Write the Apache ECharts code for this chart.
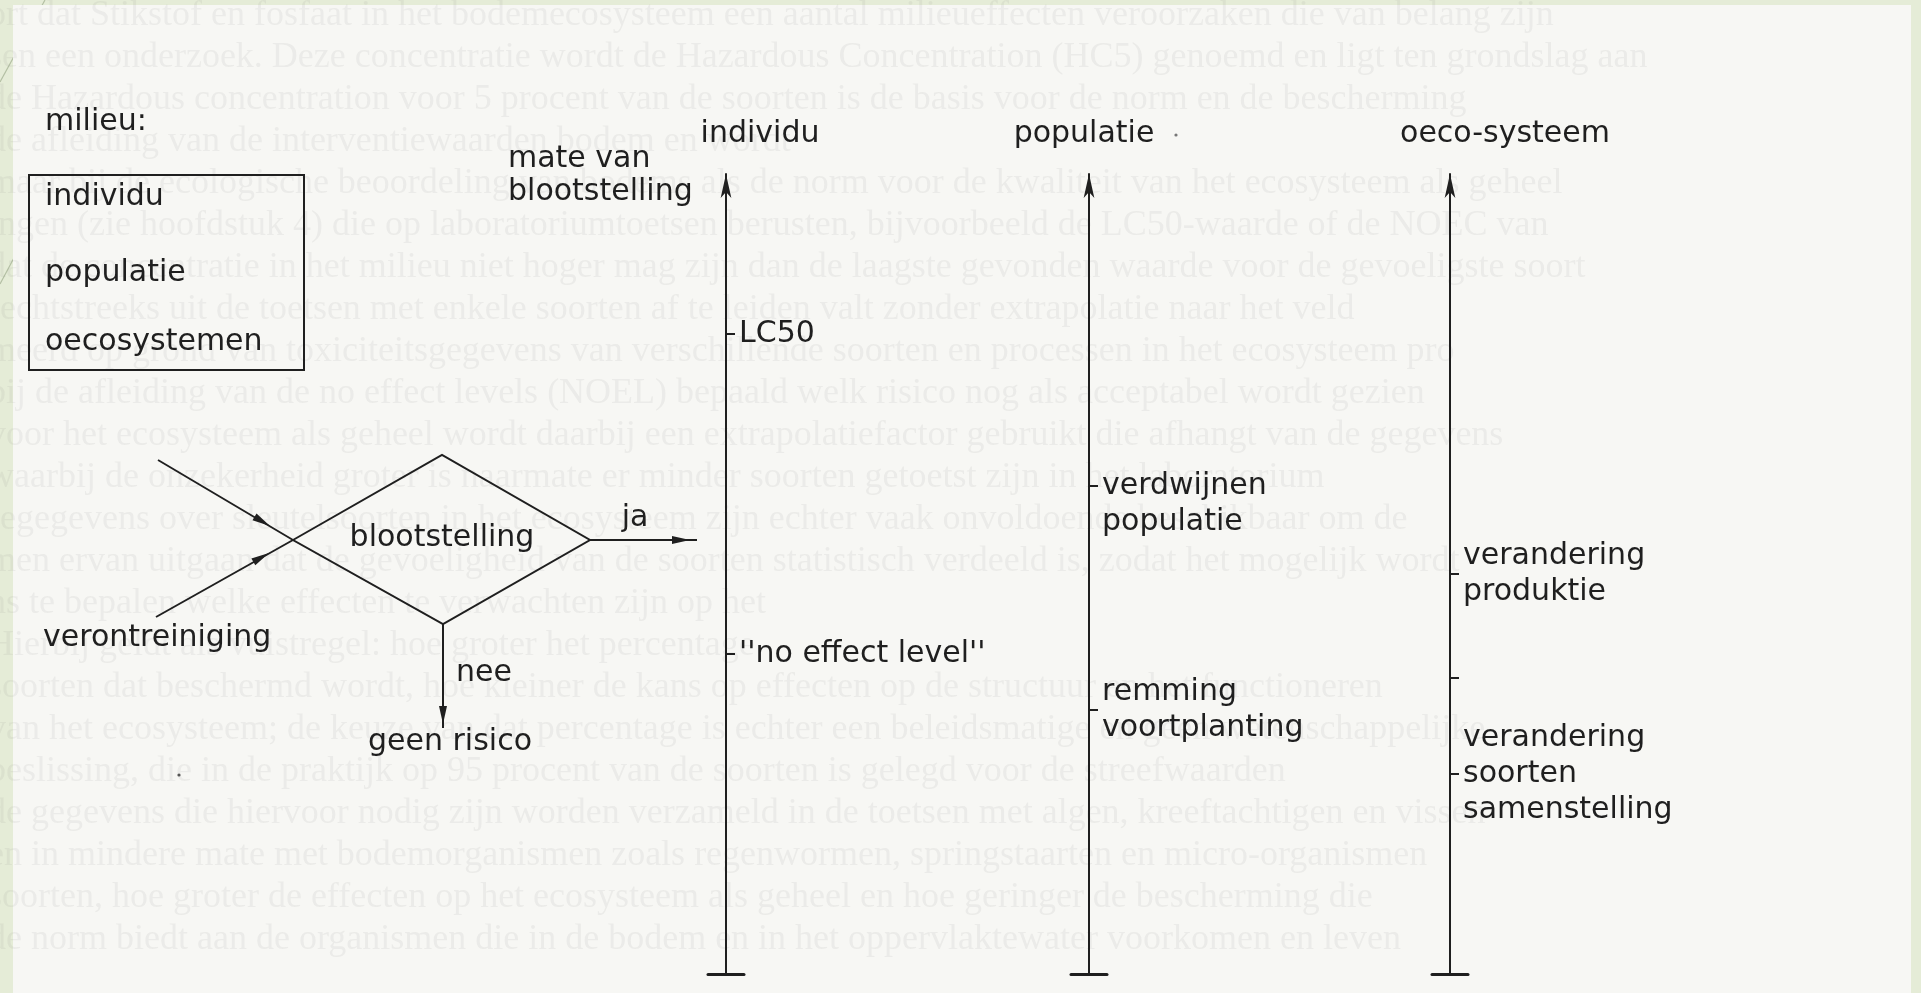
<!DOCTYPE html>
<html lang="nl">
<head>
<meta charset="UTF-8">
<title>milieu: individu, populatie, oeco-systeem</title>
<style>
  html, body { margin: 0; padding: 0; background: #e5ecd7; }
  #chart { width: 1921px; height: 993px; }
</style>
<script src="https://cdn.jsdelivr.net/npm/echarts@6/dist/echarts.min.js"></script>
</head>
<body>
<div id="chart"></div>
<script>
// kolommen en de effecten langs de as "mate van blootstelling" (schaal 0-100)
var columns = ['individu', 'populatie', 'oeco-systeem'];
var individuEffects = ['LC50', "''no effect level''"];
var individuLevels = [80, 40];
var populatieEffects = ['verdwijnen\npopulatie', 'remming\nvoortplanting'];
var populatieLevels = [61, 33];
var oecoEffects = ['verandering\nproduktie', '', 'verandering\nsoorten\nsamenstelling'];
var oecoLevels = [50, 37, 25];
var milieuItems = ['individu', 'populatie', 'oecosystemen'];

// doorschijnende tekst van de achterkant van de pagina
var ghostLines = [
    'ort dat Stikstof en fosfaat in het bodemecosysteem een aantal milieueffecten veroorzaken die van belang zijn',
    'sen een onderzoek. Deze concentratie wordt de Hazardous Concentration (HC5) genoemd en ligt ten grondslag aan',
    'de Hazardous concentration voor 5 procent van de soorten is de basis voor de norm en de bescherming',
    'de afleiding van de interventiewaarden bodem en wordt',
    'maar bij de ecologische beoordeling van bodems als de norm voor de kwaliteit van het ecosysteem als geheel',
    'ingen (zie hoofdstuk 4) die op laboratoriumtoetsen berusten, bijvoorbeeld de LC50-waarde of de NOEC van',
    'dat de concentratie in het milieu niet hoger mag zijn dan de laagste gevonden waarde voor de gevoeligste soort',
    'rechtstreeks uit de toetsen met enkele soorten af te leiden valt zonder extrapolatie naar het veld',
    'meerd op grond van toxiciteitsgegevens van verschillende soorten en processen in het ecosysteem pro',
    'bij de afleiding van de no effect levels (NOEL) bepaald welk risico nog als acceptabel wordt gezien',
    'voor het ecosysteem als geheel wordt daarbij een extrapolatiefactor gebruikt die afhangt van de gegevens',
    'waarbij de onzekerheid groter is naarmate er minder soorten getoetst zijn in het laboratorium',
    'regegevens over sleutelsoorten in het ecosysteem zijn echter vaak onvoldoende beschikbaar om de',
    'men ervan uitgaan dat de gevoeligheid van de soorten statistisch verdeeld is, zodat het mogelijk wordt',
    'ns te bepalen welke effecten te verwachten zijn op het',
    'Hierbij geldt als vuistregel: hoe groter het percentage',
    'soorten dat beschermd wordt, hoe kleiner de kans op effecten op de structuur en het functioneren',
    'van het ecosysteem; de keuze van dat percentage is echter een beleidsmatige en geen wetenschappelijke',
    'beslissing, die in de praktijk op 95 procent van de soorten is gelegd voor de streefwaarden',
    'de gegevens die hiervoor nodig zijn worden verzameld in de toetsen met algen, kreeftachtigen en vissen',
    'en in mindere mate met bodemorganismen zoals regenwormen, springstaarten en micro-organismen',
    'soorten, hoe groter de effecten op het ecosysteem als geheel en hoe geringer de bescherming die',
    'de norm biedt aan de organismen die in de bodem en in het oppervlaktewater voorkomen en leven'
];

var FONT = '"DejaVu Sans", "Liberation Sans", sans-serif';
var INK = '#1f1f1f';
var myChart = echarts.init(document.getElementById('chart'));

var effects = [individuEffects, populatieEffects, oecoEffects];
var levels = [individuLevels, populatieLevels, oecoLevels];
var axisX = [726, 1089, 1450];      // midden van elke as
var nameShift = [34, -5, 55];        // kopje t.o.v. de as
var labelLead = [[0, 0], [1, 0], [0, 0, 0]];  // lege regels boven een label, zodat het streepje bij de juiste regel staat

var grids = [], xAxes = [], yAxes = [];
columns.forEach(function (col, i) {
    grids.push({left: axisX[i] - 18, width: 36, top: 174, height: 800});
    // korte horizontale lijn onderaan (de "T")
    xAxes.push({
        gridIndex: i, type: 'value', min: -1, max: 1,
        axisLine: {lineStyle: {color: INK, width: 3}},
        axisTick: {show: false}, axisLabel: {show: false}, splitLine: {show: false}
    });
    yAxes.push({
        gridIndex: i, type: 'value', min: 0, max: 100, position: 'right',
        name: col, nameLocation: 'end', nameGap: 25,
        nameTextStyle: {
            fontFamily: FONT, fontSize: 30, color: INK,
            padding: nameShift[i] >= 0 ? [0, 0, 0, 2 * nameShift[i]] : [0, -2 * nameShift[i], 0, 0]
        },
        axisLine: {onZero: true, symbol: ['none', 'arrow'], symbolSize: [8, 24],
            lineStyle: {color: INK, width: 2}},
        axisTick: {show: true, length: 9, customValues: levels[i],
            lineStyle: {color: INK, width: 2}},
        axisLabel: {
            show: true, margin: -5, customValues: levels[i],
            formatter: function (v) {
                var k = levels[i].indexOf(v);
                if (k < 0) return '';
                return new Array(labelLead[i][k] + 1).join('\n') + effects[i][k];
            },
            fontFamily: FONT, fontSize: 30, lineHeight: 36, color: INK
        },
        splitLine: {show: false}
    });
});

// pijlpunt (gevulde driehoek) met de punt op (tx, ty)
function arrowHead(tx, ty, fx, fy, len, half) {
    var dx = tx - fx, dy = ty - fy, d = Math.sqrt(dx * dx + dy * dy);
    var ux = dx / d, uy = dy / d;
    var bx = tx - ux * len, by = ty - uy * len;
    return {
        type: 'polygon',
        shape: {points: [[tx, ty], [bx - uy * half, by + ux * half], [bx + uy * half, by - ux * half]]},
        style: {fill: INK}
    };
}
function line(x1, y1, x2, y2) {
    return {type: 'line', shape: {x1: x1, y1: y1, x2: x2, y2: y2},
        style: {stroke: INK, lineWidth: 2}};
}
function text(str, x, y, align) {
    return {type: 'text', style: {text: str, x: x, y: y, fill: INK,
        font: '30px ' + FONT, textAlign: align || 'left', textVerticalAlign: 'middle'}};
}

var elements = [];
// achtergrond: groene rand, gescande pagina en decoratielijnen
elements.push({type: 'line', z: -20, shape: {x1: 45, y1: 0, x2: 0, y2: 82},
    style: {stroke: '#b3bfa3', lineWidth: 1.2}});
elements.push({type: 'line', z: -20, shape: {x1: 30, y1: 228, x2: 0, y2: 284},
    style: {stroke: '#b3bfa3', lineWidth: 1.2}});
elements.push({type: 'rect', z: -10, shape: {x: 13, y: 5, width: 1898, height: 988},
    style: {fill: '#f7f7f4'}});
ghostLines.forEach(function (s, k) {
    elements.push({type: 'text', z: -5, style: {
        text: s, x: -12, y: 16 + k * 42, fill: 'rgba(120,120,120,0.085)',
        font: '36px "Liberation Serif", serif', textVerticalAlign: 'middle'}});
});

// milieu-kader
elements.push(text('milieu:', 45, 122));
elements.push({type: 'rect', shape: {x: 29, y: 175, width: 275, height: 195},
    style: {fill: 'none', stroke: INK, lineWidth: 2}});
[197, 273, 342].forEach(function (y, k) {
    elements.push(text(milieuItems[k], 45, y));
});

// beslisruit "blootstelling"
elements.push({type: 'polygon', shape: {points: [[293, 540], [442, 455], [590, 540], [443, 624]]},
    style: {fill: 'none', stroke: INK, lineWidth: 2}});
elements.push(text('blootstelling', 442, 538, 'center'));
elements.push(line(158, 460, 293, 540));
elements.push(line(156, 617, 293, 540));
elements.push(arrowHead(270, 526, 158, 460, 18, 4));
elements.push(arrowHead(269, 553, 156, 617, 18, 4));
elements.push(text('verontreiniging', 43, 638));
elements.push(line(590, 540, 697, 540));
elements.push(arrowHead(690, 540, 590, 540, 18, 4));
elements.push(text('ja', 635, 518, 'center'));
elements.push(line(443, 624, 443, 728));
elements.push(arrowHead(443, 724, 443, 624, 18, 4));
elements.push(text('nee', 456, 673));
elements.push(text('geen risico', 450, 742, 'center'));
elements.push({type: 'circle', shape: {cx: 179, cy: 775, r: 1.6}, style: {fill: '#555'}});
elements.push({type: 'circle', shape: {cx: 1176, cy: 135, r: 1.6}, style: {fill: '#777'}});

// titel van de verticale assen
elements.push(text('mate van', 508, 159));
elements.push(text('blootstelling', 508, 192));

var option = {
    backgroundColor: '#e5ecd7',
    animation: false,
    grid: grids,
    xAxis: xAxes,
    yAxis: yAxes,
    graphic: {elements: elements},
    series: columns.map(function (c, i) {
        return {type: 'line', xAxisIndex: i, yAxisIndex: i, data: [], silent: true};
    })
};
myChart.setOption(option);
</script>
</body>
</html>
